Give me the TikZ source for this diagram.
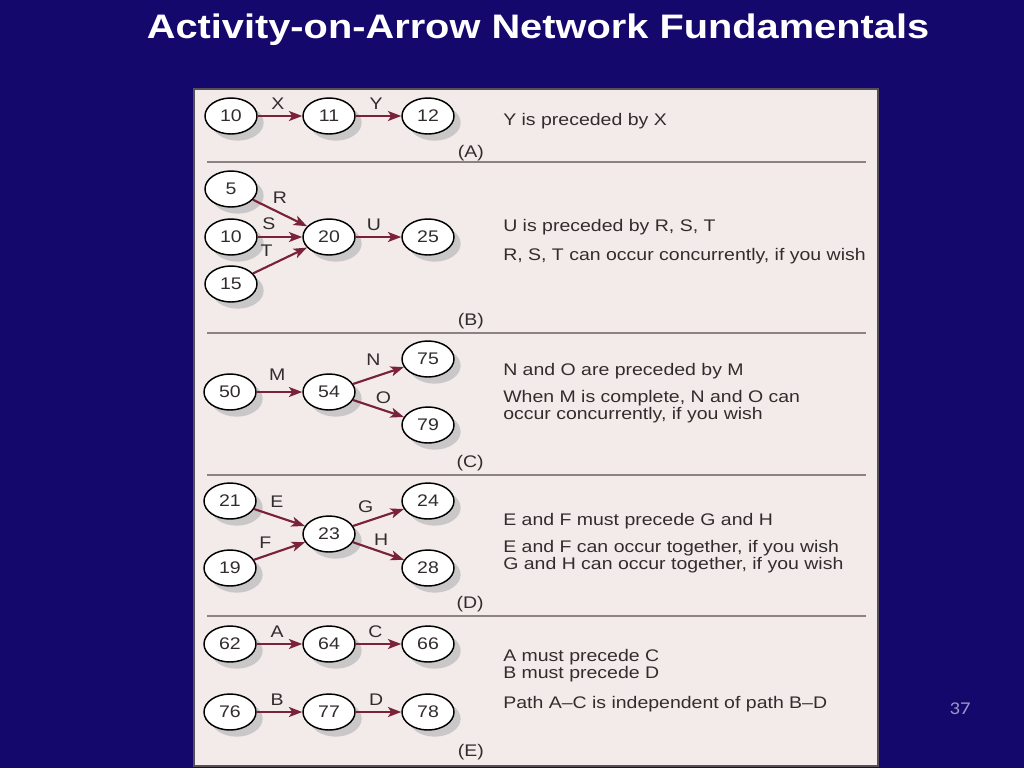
\documentclass[tikz,border=0pt]{standalone}
\usepackage{fontspec}
\setmainfont{Liberation Sans}
\newfontfamily\panelfont[FakeStretch=1.16]{Liberation Sans}
\newfontfamily\titlefont[FakeStretch=1.17]{Liberation Sans}
\newfontfamily\pagefont[FakeStretch=1.15]{Carlito}
\usetikzlibrary{shapes.geometric,arrows.meta,shadows}

\definecolor{slidebg}{RGB}{20,8,108}
\definecolor{panelbg}{RGB}{243,235,234}
\definecolor{panelrim}{RGB}{85,80,85}
\definecolor{rulegray}{RGB}{140,130,130}
\definecolor{actred}{RGB}{122,34,56}
\definecolor{inkgray}{RGB}{50,45,45}
\definecolor{pagenum}{RGB}{156,151,201}

\tikzset{
  evt/.style={ellipse, draw=black, line width=1.1pt, fill=white,
    minimum width=39pt, minimum height=27pt, inner sep=0pt,
    font=\panelfont\fontsize{12.6}{14}\selectfont, text=inkgray,
    drop shadow={shadow xshift=5pt, shadow yshift=-5pt, fill=black!25, opacity=.8}},
  act/.style={draw=actred, line width=1.6pt, -{Stealth[length=10pt,width=7.5pt,inset=2.5pt]}},
  tag/.style={font=\panelfont\fontsize{12.6}{14}\selectfont, text=inkgray, inner sep=1pt, above=3pt},
  note/.style={font=\panelfont\fontsize{12.6}{11.25}\selectfont, text=inkgray, anchor=west, align=left, inner sep=0pt},
  sect/.style={font=\panelfont\fontsize{12.6}{14}\selectfont, text=inkgray, anchor=east, inner sep=0pt},
  rule/.style={draw=rulegray, line width=0.9pt}
}

\begin{document}
\begin{tikzpicture}[x=0.75pt,y=0.75pt,yscale=-1,xscale=1]

\fill[slidebg] (0,0) rectangle (1024,768);
\draw[panelrim, fill=panelbg, line width=1.5pt] (194,89) rectangle (878,766);

\node[font=\titlefont\bfseries\fontsize{25.5}{30}\selectfont, text=white] (title) at (538,30) {Activity-on-Arrow Network Fundamentals};
\node[font=\pagefont\fontsize{13.5}{16}\selectfont, text=pagenum] (page) at (960,709) {37};

% section rules
\draw[rule] (207,162) -- (866,162);
\draw[rule] (207,333) -- (866,333);
\draw[rule] (207,475) -- (866,475);
\draw[rule] (207,616) -- (866,616);

% (A)
\node[evt] (a10) at (231,116) {10};
\node[evt] (a11) at (329,116) {11};
\node[evt] (a12) at (428,116) {12};
\draw[act] (a10) -- node[tag, pos=0.45] {X} (a11);
\draw[act] (a11) -- node[tag, pos=0.45] {Y} (a12);
\node[note] (na) at (503,121) {Y is preceded by X};
\node[sect] (sa) at (484,153) {(A)};

% (B)
\node[evt] (b5) at (231,189) {5};
\node[evt] (b10) at (231,237) {10};
\node[evt] (b15) at (231,284) {15};
\node[evt] (b20) at (329,237) {20};
\node[evt] (b25) at (428,237) {25};
\draw[act] (b5) -- node[tag, pos=0.5, above=2pt] {R} (b20);
\draw[act] (b10) -- node[tag, pos=0.25, above=1pt] {S} (b20);
\draw[act] (b15) -- node[tag, pos=0.25, above=3pt] {T} (b20);
\draw[act] (b20) -- node[tag, pos=0.4] {U} (b25);
\node[note] (nb1) at (503,227) {U is preceded by R, S, T};
\node[note] (nb2) at (503,256) {R, S, T can occur concurrently, if you wish};
\node[sect] (sb) at (484,321) {(B)};

% (C)
\node[evt] (c50) at (230,392) {50};
\node[evt] (c54) at (329,392) {54};
\node[evt] (c75) at (428,359) {75};
\node[evt] (c79) at (428,425) {79};
\draw[act] (c50) -- node[tag, pos=0.45, above=4pt] {M} (c54);
\draw[act] (c54) -- node[tag, pos=0.4, above=4pt] {N} (c75);
\draw[act] (c54) -- node[tag, pos=0.6] {O} (c79);
\node[note] (nc1) at (503,371) {N and O are preceded by M};
\node[note] (nc2) at (503,407) {When M is complete, N and O can\\occur concurrently, if you wish};
\node[sect] (sc) at (484,463) {(C)};

% (D)
\node[evt] (d21) at (230,501) {21};
\node[evt] (d19) at (230,568) {19};
\node[evt] (d23) at (329,534) {23};
\node[evt] (d24) at (428,501) {24};
\node[evt] (d28) at (428,568) {28};
\draw[act] (d21) -- node[tag, pos=0.45, above=2pt] {E} (d23);
\draw[act] (d19) -- node[tag, pos=0.22, above=1pt] {F} (d23);
\draw[act] (d23) -- node[tag, pos=0.25, above=2pt] {G} (d24);
\draw[act] (d23) -- node[tag, pos=0.55] {H} (d28);
\node[note] (nd1) at (503,521) {E and F must precede G and H};
\node[note] (nd2) at (503,557) {E and F can occur together, if you wish\\G and H can occur together, if you wish};
\node[sect] (sd) at (484,604) {(D)};

% (E)
\node[evt] (e62) at (230,644) {62};
\node[evt] (e64) at (329,644) {64};
\node[evt] (e66) at (428,644) {66};
\node[evt] (e76) at (230,712) {76};
\node[evt] (e77) at (329,712) {77};
\node[evt] (e78) at (428,712) {78};
\draw[act] (e62) -- node[tag, pos=0.45] {A} (e64);
\draw[act] (e64) -- node[tag, pos=0.43] {C} (e66);
\draw[act] (e76) -- node[tag, pos=0.45] {B} (e77);
\draw[act] (e77) -- node[tag, pos=0.45] {D} (e78);
\node[note] (ne1) at (503,666) {A must precede C\\B must precede D};
\node[note] (ne2) at (503,704) {Path A\textendash C is independent of path B\textendash D};
\node[sect] (se) at (484,752) {(E)};

\end{tikzpicture}
\end{document}
